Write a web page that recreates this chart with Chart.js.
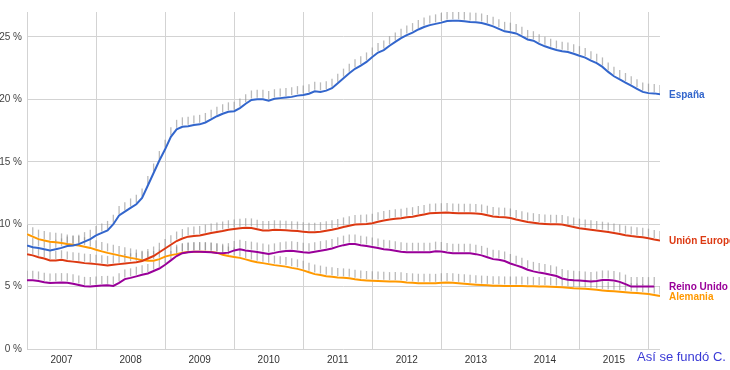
<!DOCTYPE html>
<html>
<head>
<meta charset="utf-8">
<script src="https://cdn.jsdelivr.net/npm/chart.js@4"></script>
<style>
  html,body{margin:0;padding:0;background:#fff;}
  #wrap{position:relative;width:730px;height:370px;overflow:hidden;}
  #mark{position:absolute;left:637px;top:349px;font:13px "Liberation Sans",Arial,sans-serif;line-height:16px;color:#3a3ad6;white-space:nowrap;}
</style>
</head>
<body>
<div id="wrap">
<canvas id="c" width="730" height="370"></canvas>
<div id="mark">Así se fundó C.</div>
</div>
<script>
// Monthly data, January 2007 = month 0
const years = ['2007','2008','2009','2010','2011','2012','2013','2014','2015'];
const yTicks = [0,5,10,15,20,25];
const seriesNames = ['España','Unión Europea','Reino Unido','Alemania'];

const espana = [8.3,8.15,8.1,8.0,7.9,8.0,8.1,8.25,8.3,8.4,
8.6,8.8,9.1,9.3,9.5,10.0,10.7,11.0,11.3,11.6,
12.1,13.1,14.1,15.1,16.0,17.0,17.6,17.8,17.85,17.95,
18.0,18.15,18.4,18.65,18.85,19.0,19.05,19.3,19.65,19.95,
20.0,20.0,19.9,20.05,20.1,20.15,20.2,20.3,20.35,20.45,
20.65,20.6,20.7,20.9,21.3,21.7,22.1,22.45,22.7,23.0,
23.4,23.75,23.95,24.3,24.6,24.9,25.15,25.35,25.6,25.8,
25.95,26.05,26.15,26.28,26.3,26.3,26.25,26.2,26.17,26.12,
26.0,25.85,25.65,25.45,25.38,25.28,25.05,24.8,24.7,24.45,
24.25,24.1,23.95,23.85,23.8,23.65,23.5,23.35,23.1,22.9,
22.6,22.2,21.85,21.6,21.35,21.1,20.85,20.6,20.5,20.48,
20.4];

const unionEuropea = [7.6,7.5,7.35,7.25,7.1,7.1,7.15,7.05,7.0,6.95,
6.88,6.85,6.8,6.75,6.7,6.75,6.8,6.85,6.9,6.95,
7.05,7.25,7.45,7.75,8.05,8.35,8.65,8.85,9.0,9.05,
9.1,9.2,9.3,9.38,9.45,9.55,9.62,9.68,9.72,9.7,
9.6,9.5,9.5,9.55,9.54,9.52,9.48,9.45,9.4,9.36,
9.35,9.4,9.48,9.56,9.66,9.78,9.88,9.98,10.0,10.02,
10.08,10.2,10.3,10.38,10.43,10.48,10.55,10.6,10.7,10.78,
10.87,10.9,10.92,10.93,10.9,10.88,10.87,10.87,10.86,10.82,
10.72,10.62,10.58,10.56,10.5,10.38,10.28,10.18,10.12,10.05,
10.02,10.0,9.99,9.98,9.88,9.78,9.68,9.62,9.56,9.5,
9.44,9.38,9.3,9.22,9.12,9.05,9.0,8.95,8.88,8.78,
8.7];

const reinoUnido = [5.5,5.5,5.45,5.35,5.28,5.3,5.32,5.3,5.22,5.12,
5.02,5.0,5.04,5.08,5.1,5.05,5.3,5.6,5.7,5.82,
5.95,6.05,6.25,6.45,6.75,7.1,7.45,7.68,7.76,7.8,
7.8,7.78,7.75,7.7,7.67,7.72,7.9,7.99,7.9,7.84,
7.78,7.7,7.62,7.7,7.8,7.85,7.88,7.82,7.75,7.72,
7.8,7.88,7.96,8.05,8.2,8.32,8.42,8.41,8.32,8.25,
8.18,8.1,8.0,7.95,7.88,7.8,7.75,7.75,7.75,7.75,
7.76,7.84,7.82,7.74,7.68,7.67,7.67,7.67,7.6,7.5,
7.35,7.2,7.15,7.05,6.85,6.7,6.55,6.35,6.22,6.12,
6.05,5.95,5.85,5.65,5.55,5.5,5.48,5.45,5.4,5.45,
5.53,5.52,5.48,5.38,5.2,5.0,5.0,5.0,5.0,5.0,
null];

const alemania = [9.2,9.0,8.8,8.7,8.6,8.55,8.5,8.42,8.36,8.3,
8.2,8.1,7.95,7.82,7.7,7.6,7.5,7.4,7.3,7.22,
7.12,7.08,7.08,7.2,7.4,7.52,7.6,7.72,7.78,7.8,
7.8,7.8,7.78,7.72,7.55,7.45,7.38,7.3,7.18,7.05,
6.95,6.88,6.8,6.72,6.66,6.6,6.5,6.42,6.3,6.15,
6.0,5.92,5.83,5.78,5.72,5.7,5.66,5.58,5.52,5.49,
5.47,5.45,5.42,5.4,5.4,5.38,5.33,5.3,5.26,5.26,
5.26,5.26,5.3,5.32,5.3,5.26,5.22,5.18,5.15,5.12,
5.1,5.07,5.06,5.05,5.05,5.05,5.04,5.03,5.02,5.01,
5.0,4.98,4.96,4.94,4.9,4.86,4.84,4.82,4.78,4.74,
4.69,4.65,4.62,4.59,4.55,4.51,4.48,4.44,4.4,4.33,
4.25];

const colors = ['#3366cc','#dc3912','#990099','#ff9900'];
const FONT = '"Liberation Sans", Arial, sans-serif';

function toPoints(arr){ return arr.map((v,i)=>({x:i,y:v})); }

const allSeries = [espana, unionEuropea, reinoUnido, alemania];
const datasets = allSeries.map((arr,k)=>({
  label: seriesNames[k],
  data: toPoints(arr),
  borderColor: colors[k],
  backgroundColor: colors[k],
  borderWidth: 2,
  pointRadius: 0,
  tension: 0,
  spanGaps: false
}));

// small gray marks above each monthly point
const stickPlugin = {
  id:'sticks',
  beforeDatasetsDraw(chart){
    const {ctx, chartArea:a} = chart;
    ctx.save();
    ctx.beginPath();
    ctx.rect(a.left, a.top, a.right - a.left, a.bottom - a.top);
    ctx.clip();
    ctx.strokeStyle = 'rgba(140,140,140,0.6)';
    ctx.lineWidth = 1.3;
    chart.data.datasets.forEach((ds,i)=>{
      const meta = chart.getDatasetMeta(i);
      meta.data.forEach((pt,j)=>{
        if (ds.data[j].y === null || pt.skip) return;
        ctx.beginPath();
        ctx.moveTo(pt.x, pt.y - 1.5);
        ctx.lineTo(pt.x, pt.y - 9.5);
        ctx.stroke();
      });
    });
    ctx.restore();
  }
};

// series names at the end of each line
const endLabelPlugin = {
  id:'endLabels',
  afterDatasetsDraw(chart){
    const {ctx, chartArea:a} = chart;
    ctx.save();
    ctx.font = 'bold 10px ' + FONT;
    ctx.textBaseline = 'middle';
    ctx.textAlign = 'left';
    chart.data.datasets.forEach((ds,i)=>{
      const meta = chart.getDatasetMeta(i);
      let last = null;
      meta.data.forEach((pt,j)=>{ if (ds.data[j].y !== null) last = pt; });
      if (!last) return;
      ctx.fillStyle = ds.borderColor;
      ctx.fillText(ds.label, a.right + 9, last.y + 1);
    });
    ctx.restore();
  }
};

new Chart(document.getElementById('c'), {
  type:'line',
  data:{datasets},
  options:{
    responsive:false,
    animation:false,
    devicePixelRatio:1,
    layout:{padding:{top:12,right:70,left:0,bottom:0}},
    plugins:{legend:{display:false}, tooltip:{enabled:false}},
    scales:{
      x:{
        type:'linear', min:0, max:110,
        afterBuildTicks(s){
          const t=[];
          for(let m=0;m<=108;m+=6) t.push({value:m});
          s.ticks=t;
        },
        afterFit(s){ s.height = 21; },
        ticks:{
          autoSkip:false, maxRotation:0, padding:5,
          color:'#333', font:{family:FONT, size:10},
          callback(v){ return (v % 12 === 6) ? years[(v-6)/12] : ''; }
        },
        grid:{
          drawTicks:false, lineWidth:1,
          color(c){ return (c.tick && c.tick.value % 12 === 0) ? '#d3d3d3' : 'rgba(0,0,0,0)'; }
        },
        border:{display:false}
      },
      y:{
        min:0, max:27,
        afterBuildTicks(s){ s.ticks = yTicks.map(v=>({value:v})); },
        afterFit(s){ s.width = 27; },
        ticks:{
          padding:5, color:'#444', font:{family:FONT, size:10},
          callback(v){ return v + ' %'; }
        },
        grid:{drawTicks:false, color:'#d3d3d3', lineWidth:1},
        border:{display:false}
      }
    }
  },
  plugins:[stickPlugin, endLabelPlugin]
});
</script>
</body>
</html>
